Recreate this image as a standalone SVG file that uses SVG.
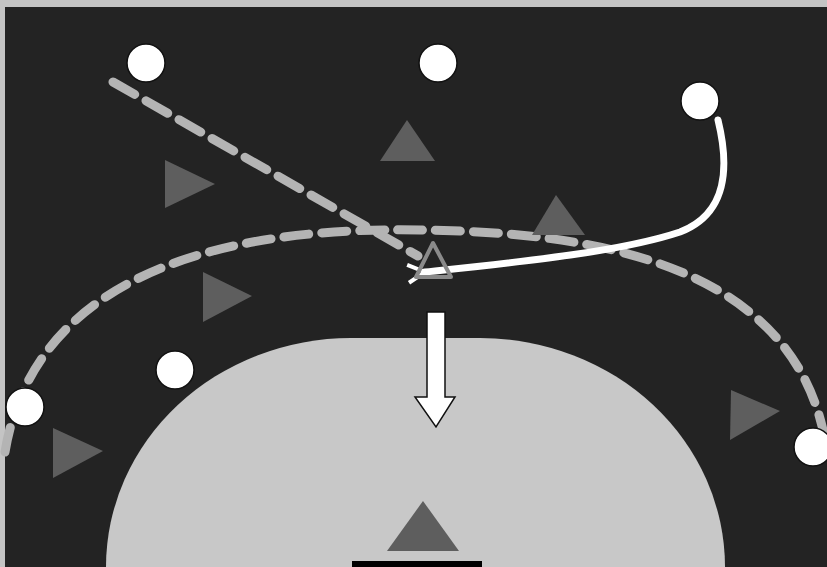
<svg xmlns="http://www.w3.org/2000/svg" width="827" height="567" viewBox="0 0 827 567">
<style>
.player{fill:#ffffff;stroke:#111;stroke-width:1.5}
.def{fill:#5e5e5e}
.dash{fill:none;stroke:#b4b4b4;stroke-width:9;stroke-dasharray:25 13;stroke-linecap:round}
.run{fill:none;stroke:#ffffff;stroke-width:7;stroke-linecap:round}
</style>
<defs>
<marker id="openHead" viewBox="0 0 24 24" refX="3" refY="12" markerWidth="24" markerHeight="24" markerUnits="userSpaceOnUse" orient="auto">
<path d="M20 3 L3 12 L20 21" fill="none" stroke="#ffffff" stroke-width="4" stroke-linejoin="miter"/>
</marker>
</defs>
<rect x="0" y="0" width="827" height="567" fill="#c4c4c4"/>
<rect x="5" y="7" width="822" height="560" fill="#232323"/>
<g id="goal-area">
<path d="M106 567 A245 229 0 0 1 351 338 L480 338 A245 229 0 0 1 725 567 Z" fill="#c8c8c8"/>
</g>
<g id="goal"><rect x="352" y="561" width="130" height="6" fill="#000"/></g>
<g id="connectors">
<path class="dash" d="M5 452 C40 240 300 228 420 230 C560 232 790 250 825 440"/>
<path class="dash" d="M113 82 L418 256"/>
<path class="run" d="M718 120 C729 165 729 213 680 232 C620 252 520 262 425 272" marker-end="url(#openHead)"/>
<path d="M427 312 L445 312 L445 397 L455 397 L436 427 L415 397 L427 397 Z" fill="#fff" stroke="#111" stroke-width="1.5" stroke-linejoin="miter"/>
</g>
<g id="p1"><circle class="player" cx="146" cy="63" r="19"/></g>
<g id="p2"><circle class="player" cx="438" cy="63" r="19"/></g>
<g id="p3"><circle class="player" cx="700" cy="101" r="19"/></g>
<g id="p4"><circle class="player" cx="175" cy="370" r="19"/></g>
<g id="p5"><circle class="player" cx="25" cy="407" r="19"/></g>
<g id="p6"><circle class="player" cx="813" cy="447" r="19"/></g>
<g id="d1"><polygon class="def" points="380,161 407,120 435,161"/></g>
<g id="d2"><polygon class="def" points="165,160 215,184 165,208"/></g>
<g id="d3"><polygon class="def" points="532,235 556,195 585,235"/></g>
<g id="d4"><polygon class="def" points="203,272 252,296 203,322"/></g>
<g id="d5"><polygon class="def" points="53,428 103,451 53,478"/></g>
<g id="d6"><polygon class="def" points="731,390 780,411 730,440"/></g>
<g id="d7"><polygon class="def" points="387,551 423,501 459,551"/></g>
<g id="moved"><polygon points="433,243 416,277 451,277" fill="none" stroke="#8a8a8a" stroke-width="4" stroke-linejoin="round"/></g>
</svg>
